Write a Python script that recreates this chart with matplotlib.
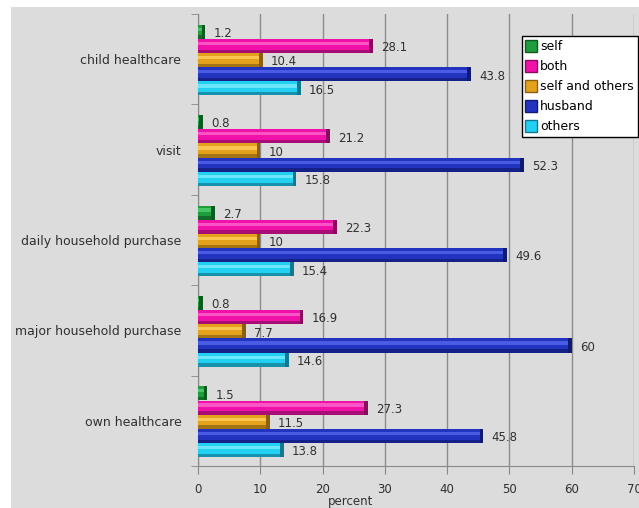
import matplotlib
matplotlib.use("Agg")
import matplotlib.pyplot as plt
from matplotlib.patches import Rectangle
from matplotlib.lines import Line2D
import numpy as np

categories = ["child healthcare", "visit", "daily household purchase",
              "major household purchase", "own healthcare"]
series = ["self", "both", "self and others", "husband", "others"]
self_vals = [1.2, 0.8, 2.7, 0.8, 1.5]
both_vals = [28.1, 21.2, 22.3, 16.9, 27.3]
selfothers_vals = [10.4, 10, 10, 7.7, 11.5]
husband_vals = [43.8, 52.3, 49.6, 60, 45.8]
others_vals = [16.5, 15.8, 15.4, 14.6, 13.8]
xticks = [0, 10, 20, 30, 40, 50, 60, 70]

values = [self_vals, both_vals, selfothers_vals, husband_vals, others_vals]
base_colors = ["#1f9c3c", "#f012a8", "#e4a21c", "#2233c0", "#22d0f2"]
light_colors = ["#4fd070", "#ff66cc", "#ffd060", "#5566ee", "#80ecff"]
dark_colors = ["#0e5a20", "#8a0a60", "#8a6010", "#101a70", "#127890"]

fig = plt.figure(figsize=(6.39, 5.08), dpi=100)
fig.patch.set_facecolor("white")
fig.add_artist(Rectangle((11 / 639, 0), 1, 1 - 7 / 508, transform=fig.transFigure,
                         facecolor="#dcdcdc", edgecolor="none", zorder=-10))

ax = fig.add_axes([198 / 639, 1 - 466 / 508, (634 - 198) / 639, (466 - 14) / 508])
ax.set_facecolor("#dcdcdc")
ax.patch.set_alpha(0)

y = np.arange(len(categories))
h = 0.155
step = 0.157
center_shift = 0.01
for i, (vals, bc, lc, dc) in enumerate(zip(values, base_colors, light_colors, dark_colors)):
    pos = y + (i - 2) * step + center_shift
    z = 3 + i * 2
    ax.barh(pos, vals, height=h, color=bc, edgecolor="none", zorder=z)
    # bevel: light band on upper part, dark band at bottom
    ax.barh(pos - h * 0.18, vals, height=h * 0.22, color=lc, edgecolor="none", zorder=z, alpha=0.8)
    ax.barh(pos + h * 0.38, vals, height=h * 0.24, color=dc, edgecolor="none", zorder=z, alpha=0.7)
    # dark end cap
    caps = [min(v, 0.6) for v in vals]
    ax.barh(pos, caps, left=[v - c for v, c in zip(vals, caps)], height=h,
            color=dc, edgecolor="none", zorder=z)
    for p, v in zip(pos, vals):
        ax.text(v + 1.3, p + 0.02, f"{v:g}", va="center", ha="left",
                fontsize=8.5, color="#303030", zorder=z + 1)

ax.set_xlim(0, 70)
ax.set_ylim(len(categories) - 0.5, -0.5)
ax.set_xticks(xticks)
ax.set_xticklabels([str(t) for t in xticks], fontsize=8.5, color="#303030")
ax.set_yticks(y)
ax.set_yticklabels(categories, fontsize=9, color="#303030")
ax.tick_params(axis="y", which="major", length=0, pad=12)
ax.set_yticks(np.arange(len(categories) + 1) - 0.5, minor=True)
ax.tick_params(axis="y", which="minor", length=5, color="#888888")
ax.tick_params(axis="x", length=6, color="#888888", pad=6)
ax.grid(axis="x", color="#8c8c8c", linewidth=1, zorder=1)
ax.set_axisbelow(True)
for s in ["top", "right"]:
    ax.spines[s].set_visible(False)
for s in ["left", "bottom"]:
    ax.spines[s].set_color("#888888")

fig.text(351 / 639, 1 - 502 / 508, "percent", ha="center", va="center",
         fontsize=8.5, color="#303030")

handles = [Line2D([], [], marker="s", linestyle="none", markersize=8,
                  markerfacecolor=bc, markeredgecolor=dc) for bc, dc in zip(base_colors, dark_colors)]
leg = fig.legend(handles, series, loc="upper left",
                 bbox_to_anchor=(522 / 639, 1 - 36 / 508), frameon=True,
                 fontsize=9, handlelength=0.8, handletextpad=0.3,
                 labelspacing=0.55, borderpad=0.35, fancybox=False,
                 borderaxespad=0)
leg.get_frame().set_edgecolor("black")
leg.get_frame().set_linewidth(1)
leg.get_frame().set_facecolor("white")
leg.get_frame().set_alpha(1)

fig.savefig("out.png", dpi=100)
